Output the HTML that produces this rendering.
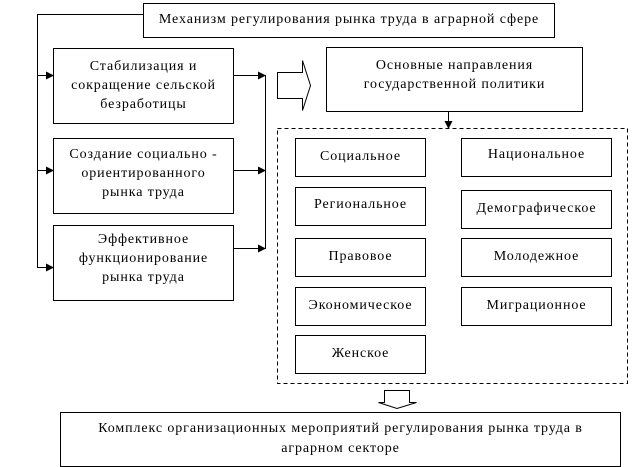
<!DOCTYPE html>
<html><head><meta charset="utf-8"><style>
body{margin:0;width:634px;height:461px;overflow:hidden;background:#fff;font-family:"Liberation Serif","DejaVu Serif",serif;font-size:14px;letter-spacing:0.9px;color:#000}
.b{position:absolute;border:1px solid #000;box-sizing:border-box;text-align:center;line-height:19px;background:#fff;white-space:nowrap}
</style></head><body>
<svg width="634" height="461" style="position:absolute;left:0;top:0">
<defs><marker id="a" markerWidth="8" markerHeight="8" refX="7" refY="4" orient="auto" markerUnits="userSpaceOnUse"><path d="M0,0 L8,4 L0,8z"/></marker></defs>
<g stroke="#000" stroke-width="1" fill="none">
<path d="M143,14.5 H37.5 V267"/>
<line x1="37" y1="75.5" x2="53" y2="75.5" marker-end="url(#a)"/>
<line x1="37" y1="170.5" x2="53" y2="170.5" marker-end="url(#a)"/>
<line x1="37" y1="267.5" x2="53" y2="267.5" marker-end="url(#a)"/>
<line x1="233" y1="75.5" x2="265" y2="75.5" marker-end="url(#a)"/>
<line x1="233" y1="170.5" x2="265" y2="170.5" marker-end="url(#a)"/>
<line x1="233" y1="248.5" x2="265" y2="248.5" marker-end="url(#a)"/>
<line x1="265.5" y1="75" x2="265.5" y2="249"/>
<path d="M277.5,72.5 H302.5 V60.5 L310.5,85.5 L302.5,110.5 V98.5 H277.5 Z"/>
<line x1="448.5" y1="111" x2="448.5" y2="128" marker-end="url(#a)"/>
<rect x="277.5" y="128.5" width="350" height="255" stroke-dasharray="4,3"/>
<path d="M384.5,390.5 H409.5 V402.5 H416.5 L397,408.5 L378.5,402.5 H384.5 Z"/>
</g></svg>
<div class="b" style="left:143px;top:3px;width:412px;height:35px;line-height:31px">Механизм регулирования рынка труда в аграрной сфере</div>
<div class="b" style="left:53px;top:48px;width:181px;height:76px;padding-top:8px">Стабилизация и<br>сокращение сельской<br>безработицы</div>
<div class="b" style="left:53px;top:138px;width:181px;height:76px;padding-top:6px">Создание социально -<br>ориентированного<br>рынка труда</div>
<div class="b" style="left:53px;top:225px;width:181px;height:76px;padding-top:4px">Эффективное<br>функционирование<br>рынка труда</div>
<div class="b" style="left:326px;top:47px;width:257px;height:65px;padding-top:8px">Основные направления<br>государственной политики</div>
<div class="b" style="left:295px;top:138px;width:131px;height:39px;line-height:35px">Социальное</div>
<div class="b" style="left:295px;top:187px;width:131px;height:39px;line-height:33px">Региональное</div>
<div class="b" style="left:295px;top:238px;width:131px;height:39px;line-height:35px">Правовое</div>
<div class="b" style="left:295px;top:287px;width:131px;height:39px;line-height:35px">Экономическое</div>
<div class="b" style="left:295px;top:335px;width:131px;height:39px;line-height:35px">Женское</div>
<div class="b" style="left:461px;top:138px;width:151px;height:39px;line-height:31px">Национальное</div>
<div class="b" style="left:461px;top:190px;width:151px;height:39px;line-height:35px">Демографическое</div>
<div class="b" style="left:461px;top:238px;width:151px;height:39px;line-height:35px">Молодежное</div>
<div class="b" style="left:461px;top:287px;width:151px;height:39px;line-height:35px">Миграционное</div>
<div class="b" style="left:60px;top:412px;width:561px;height:55px;padding-top:6px;line-height:20px">Комплекс организационных мероприятий регулирования рынка труда в<br>аграрном секторе</div>
</body></html>
